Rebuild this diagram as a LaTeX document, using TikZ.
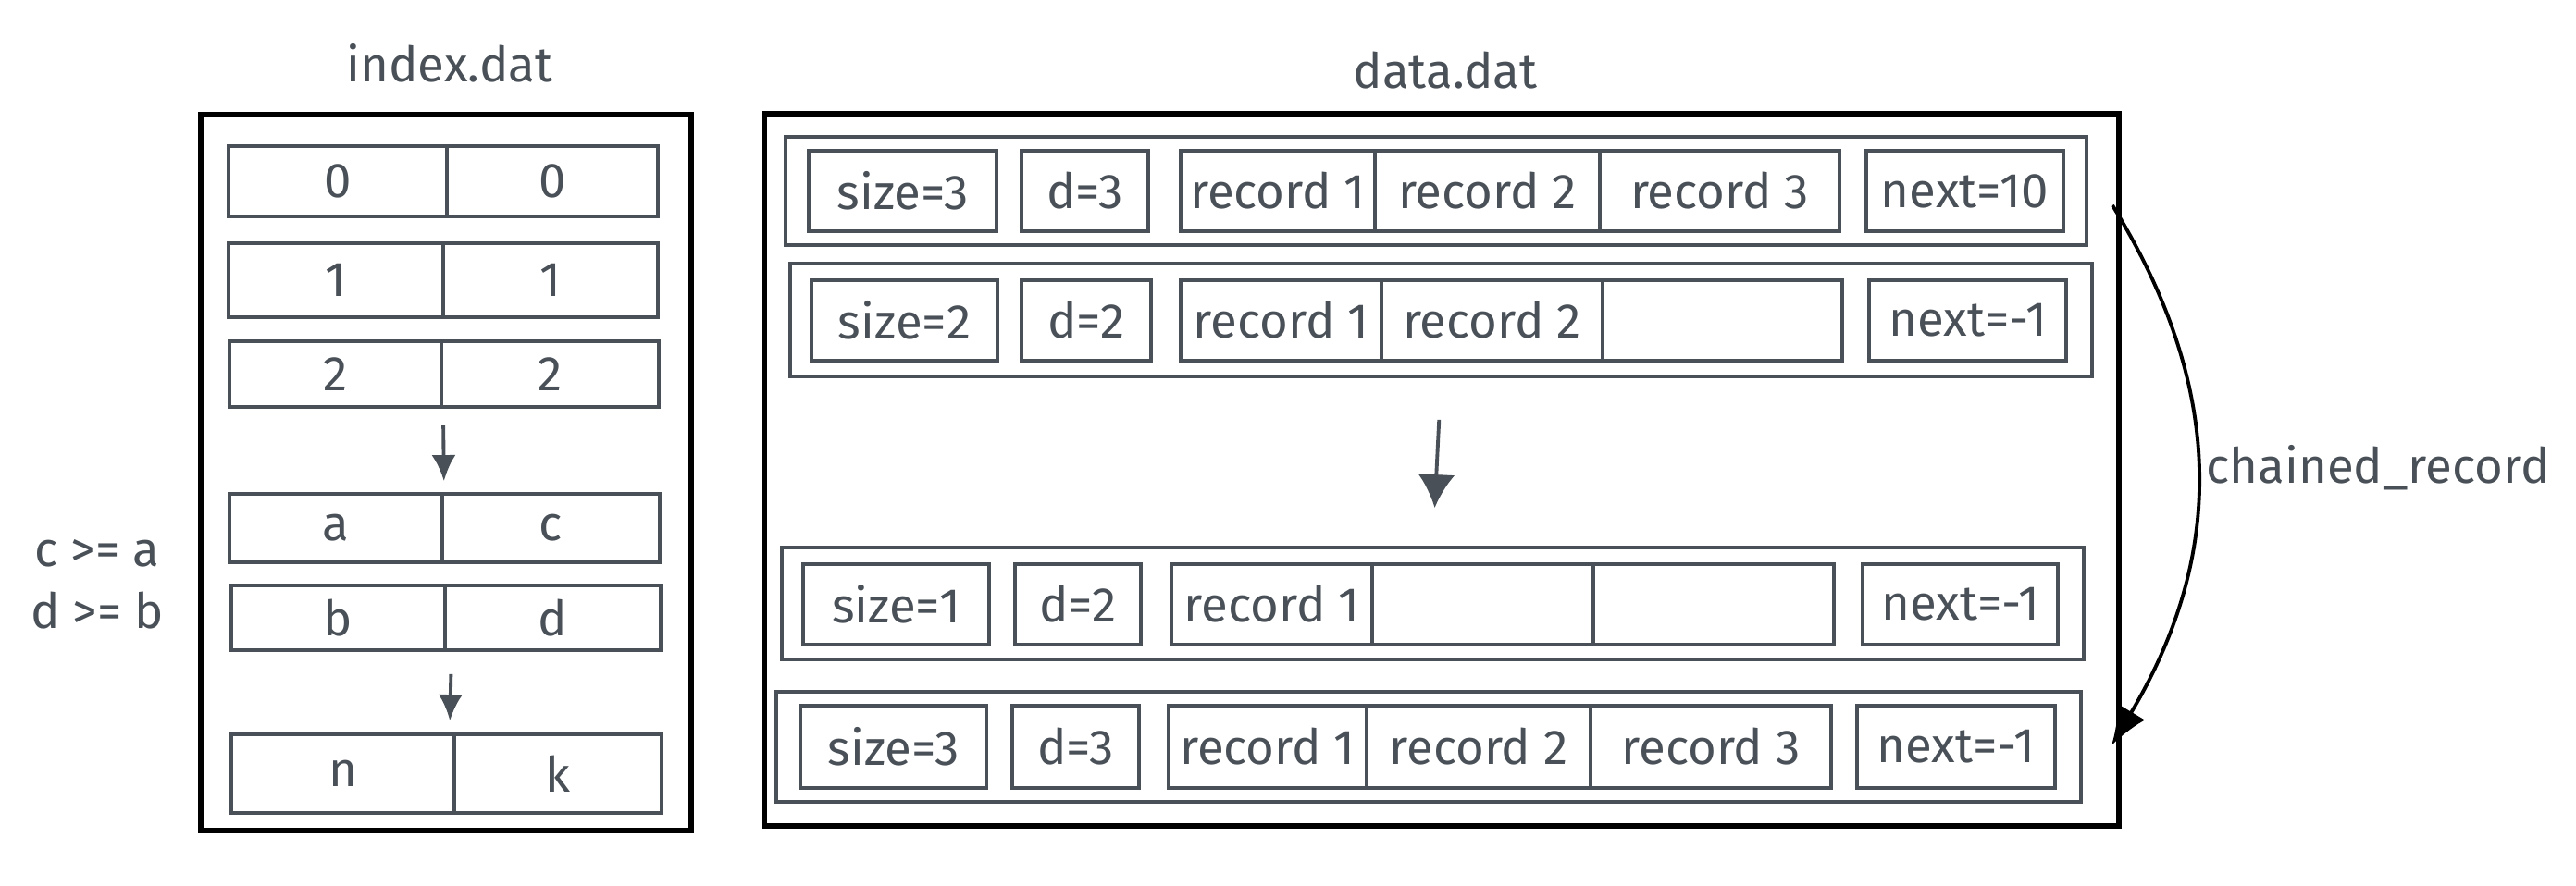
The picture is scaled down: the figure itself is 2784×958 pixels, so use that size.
\documentclass[tikz,border=0pt]{standalone}
\usepackage{fontspec}
\setmainfont{Fira Sans}
\usetikzlibrary{arrows.meta,fit}
\definecolor{ink}{RGB}{73,80,87}
\newcommand\fs{\fontsize{15}{18}\selectfont}
\begin{document}
\begin{tikzpicture}[x=0.1mm,y=-0.1mm,
  cell/.style={draw=ink, line width=1.1pt, inner sep=0pt},
  ct/.style={label={[lbl]center:#1}},
  rowbox/.style={draw=ink, line width=1.1pt, inner sep=0pt},
  frame/.style={draw=black, line width=1.6pt, inner sep=0pt},
  lbl/.style={text=ink, font=\fs, inner sep=0pt},
  smallarrow/.style={draw=ink, line width=1.1pt, -{Latex[length=2.8mm,width=2.6mm]}},
  bigarrow/.style={draw=ink, line width=1.1pt, -{Latex[length=3.6mm,width=4mm]}},
  chain/.style={draw=black, line width=1.1pt, -{Latex[length=4.2mm,width=3.4mm]}}]
\useasboundingbox (0,0) rectangle (2784,958);

% ---------- index.dat ----------
\node[lbl] (ititle) at (486,68) {index.dat};
\node[frame, fit={(217,124)(747,898)}] (ibox) {};

\node[cell, ct=0, fit={(247,158)(483,234)}] (i0l) {};
\node[cell, ct=0, fit={(483,158)(711,234)}] (i0r) {};
\node[cell, ct=1, fit={(247,263)(479,343)}] (i1l) {};
\node[cell, ct=1, fit={(479,263)(711,343)}] (i1r) {};
\node[cell, ct=2, fit={(248,369)(477,440)}] (i2l) {};
\node[cell, ct=2, fit={(477,369)(712,440)}] (i2r) {};
\node[cell, ct=a, fit={(248,534)(478,608)}] (ial) {};
\node[cell, ct=c, fit={(478,534)(713,608)}] (iar) {};
\node[cell, ct=b, fit={(250,633)(481,703)}] (ibl) {};
\node[cell, ct=d, fit={(481,633)(714,703)}] (ibr) {};
\node[cell, ct=n, fit={(250,794)(491,879)}] (inl) {};
\node[cell, ct=k, fit={(491,794)(715,879)}] (inr) {};

\draw[smallarrow, shorten <=1.8mm, shorten >=1.2mm] (i2l.south east) -- (ial.north east);
\draw[smallarrow, shorten <=2.4mm, shorten >=1.3mm] ([xshift=0.5mm]ibl.south east) -- ([xshift=-0.7mm]inl.north east);

\node[lbl] (c1) at (105,598) {c >= a};
\node[lbl] (c2) at (105,660) {d >= b};

% ---------- data.dat ----------
\node[lbl] (dtitle) at (1562,76) {data.dat};
\node[frame, fit={(826,123)(2290,893)}] (dbox) {};

% row 1
\node[rowbox, fit={(849,148)(2255,265)}] (r1) {};
\node[cell, ct={size=3}, fit={(874,163)(1077,250)}] (r1s) {};
\node[cell, ct={d=3}, fit={(1104,163)(1241,250)}] (r1d) {};
\node[cell, ct={record 1}, fit={(1276,163)(1486,250)}] (r1a) {};
\node[cell, ct={record 2}, fit={(1486,163)(1729,250)}] (r1b) {};
\node[cell, ct={record 3}, fit={(1729,163)(1988,250)}] (r1c) {};
\node[cell, ct={next=10}, fit={(2017,163)(2230,250)}] (r1n) {};

% row 2
\node[rowbox, fit={(854,285)(2261,407)}] (r2) {};
\node[cell, ct={size=2}, fit={(877,303)(1078,390)}] (r2s) {};
\node[cell, ct={d=2}, fit={(1104,303)(1244,390)}] (r2d) {};
\node[cell, ct={record 1}, fit={(1276,303)(1493,390)}] (r2a) {};
\node[cell, ct={record 2}, fit={(1493,303)(1732,390)}] (r2b) {};
\node[cell, fit={(1732,303)(1991,390)}] (r2c) {};
\node[cell, ct={next=-1}, fit={(2020,303)(2233,390)}] (r2n) {};

% row 3
\node[rowbox, fit={(845,592)(2252,713)}] (r3) {};
\node[cell, ct={size=1}, fit={(868,610)(1069,697)}] (r3s) {};
\node[cell, ct={d=2}, fit={(1097,610)(1233,697)}] (r3d) {};
\node[cell, ct={record 1}, fit={(1266,610)(1483,697)}] (r3a) {};
\node[cell, fit={(1483,610)(1722,697)}] (r3b) {};
\node[cell, fit={(1722,610)(1982,697)}] (r3c) {};
\node[cell, ct={next=-1}, fit={(2013,610)(2224,697)}] (r3n) {};

% row 4
\node[rowbox, fit={(839,748)(2249,867)}] (r4) {};
\node[cell, ct={size=3}, fit={(865,763)(1066,852)}] (r4s) {};
\node[cell, ct={d=3}, fit={(1094,763)(1231,852)}] (r4d) {};
\node[cell, ct={record 1}, fit={(1263,763)(1477,852)}] (r4a) {};
\node[cell, ct={record 2}, fit={(1477,763)(1719,852)}] (r4b) {};
\node[cell, ct={record 3}, fit={(1719,763)(1979,852)}] (r4c) {};
\node[cell, ct={next=-1}, fit={(2007,763)(2221,852)}] (r4n) {};

\draw[bigarrow, shorten <=4.5mm, shorten >=4.1mm] (r2.south) -- (r3.north);

% chained record
\coordinate (cs) at (2283,222);
\coordinate (ce) at (2282,806);
\draw[chain] (cs) .. controls (2405,420) and (2405,600) .. (ce);
\node[lbl] (chl) at (2570,506) {chained\_record};
\end{tikzpicture}
\end{document}
